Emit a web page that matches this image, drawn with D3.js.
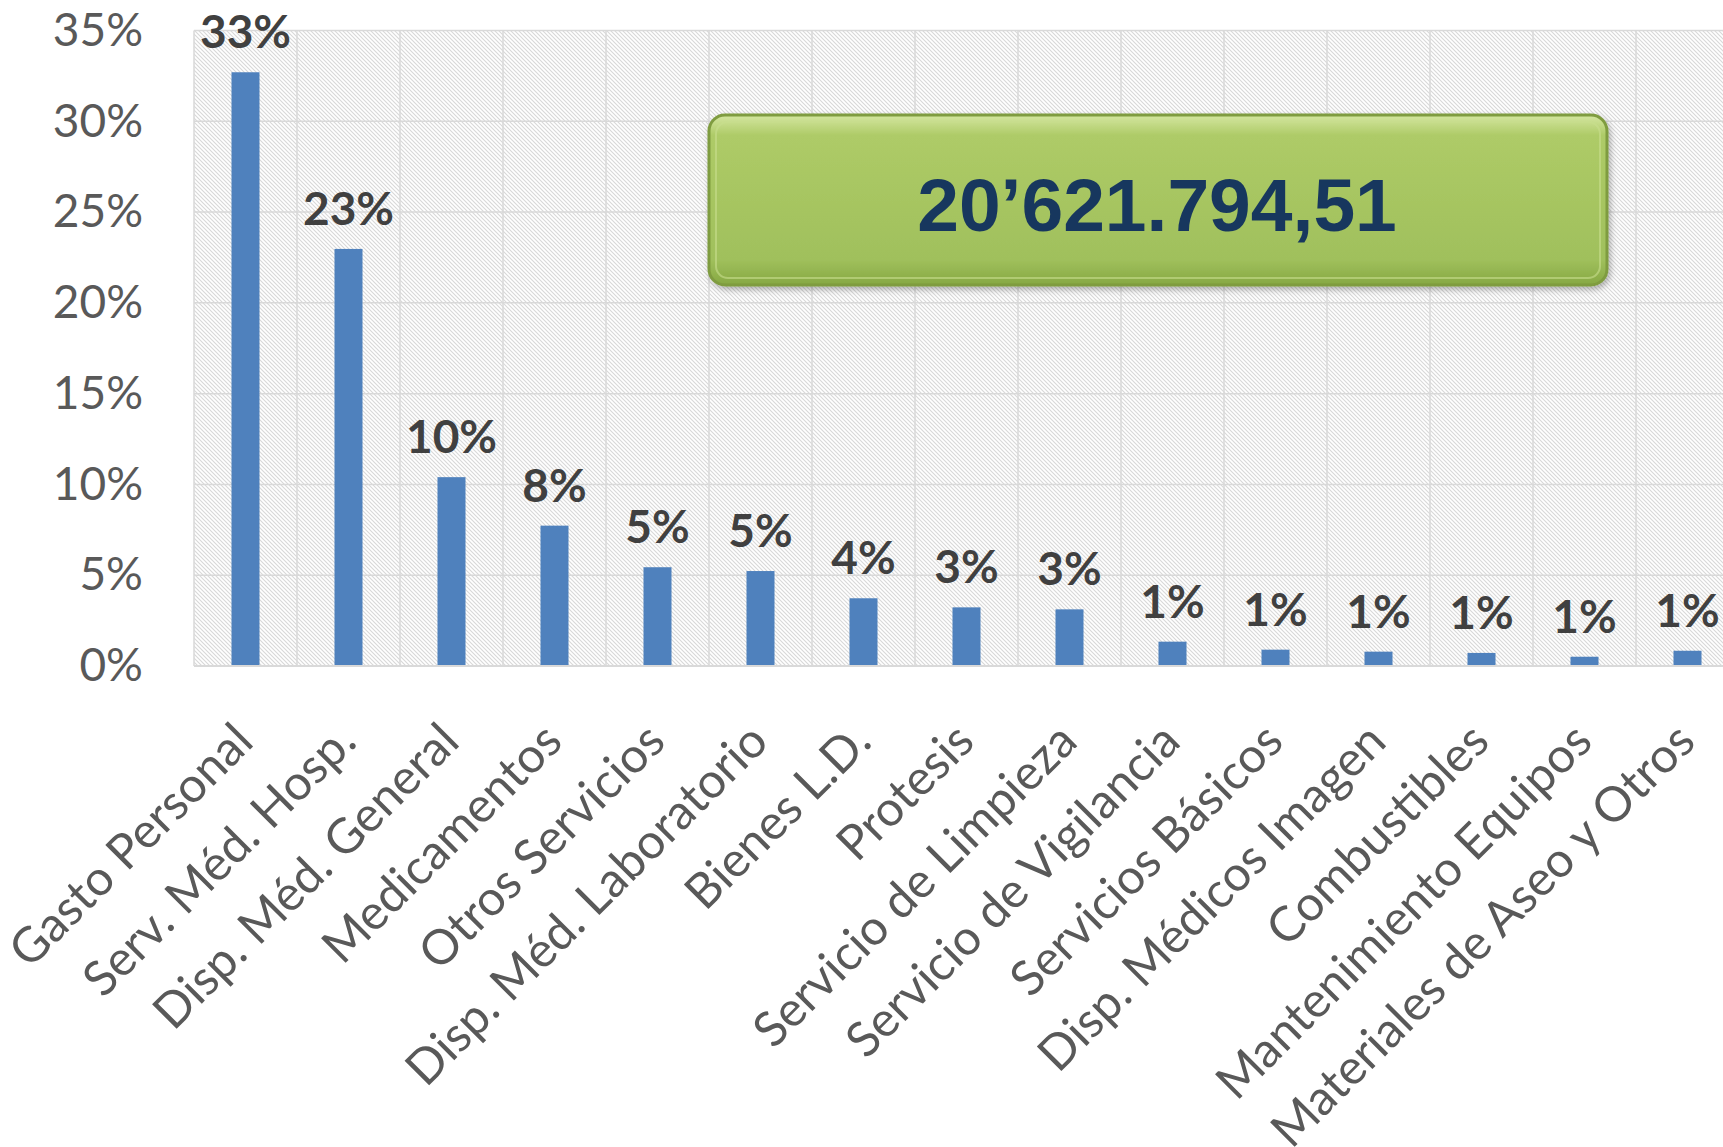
<!DOCTYPE html>
<html>
<head>
<meta charset="utf-8">
<script src="https://cdn.jsdelivr.net/npm/d3@7"></script>
<style>
  body { margin: 0; background: #fff; }
  svg { display: block; }
</style>
</head>
<body>
<svg id="chart"></svg>
<script>
var categories = ["Gasto Personal", "Serv. Méd. Hosp.", "Disp. Méd. General", "Medicamentos",
                  "Otros Servicios", "Disp. Méd. Laboratorio", "Bienes L.D.", "Protesis",
                  "Servicio de Limpieza", "Servicio de Vigilancia", "Servicios Básicos",
                  "Disp. Médicos Imagen", "Combustibles", "Mantenimiento Equipos",
                  "Materiales de Aseo y Otros"];
var shares = [0.327, 0.2297, 0.104, 0.0773, 0.0544, 0.0523, 0.0373, 0.0323, 0.0312,
              0.0134, 0.0090, 0.0079, 0.0072, 0.0051, 0.0084];
var yTicks = [0, 0.05, 0.10, 0.15, 0.20, 0.25, 0.30, 0.35];
var totalLabel = "20\u2019621.794,51";

var W = 1723, H = 1147;
var margin = { top: 30.5, left: 194, bottom: 481 },
    bandW = 103,
    plotW = bandW * categories.length,
    plotBottom = H - margin.bottom;

var svg = d3.select("#chart").attr("width", W).attr("height", H);

var defs = svg.append("defs");
var pat = defs.append("pattern")
  .attr("id", "hatch")
  .attr("patternUnits", "userSpaceOnUse")
  .attr("width", 4).attr("height", 4);
pat.append("rect").attr("width", 4).attr("height", 4).attr("fill", "#fff");
pat.append("path").attr("d", "M-1,-1 L5,5 M3,-1 L5,1 M-1,3 L1,5")
  .attr("stroke", "#d8d8d8").attr("stroke-width", 1.1);

var grad = defs.append("linearGradient").attr("id", "boxFill")
  .attr("x1", 0).attr("y1", 0).attr("x2", 0).attr("y2", 1);
grad.append("stop").attr("offset", "0").attr("stop-color", "#d4e6a0");
grad.append("stop").attr("offset", "0.12").attr("stop-color", "#aecb67");
grad.append("stop").attr("offset", "0.85").attr("stop-color", "#a0c05c");
grad.append("stop").attr("offset", "1").attr("stop-color", "#86a843");

var shadow = defs.append("filter").attr("id", "shadow")
  .attr("x", "-5%").attr("y", "-10%").attr("width", "110%").attr("height", "130%");
shadow.append("feDropShadow").attr("dx", 2).attr("dy", 3).attr("stdDeviation", 3)
  .attr("flood-color", "#000").attr("flood-opacity", 0.3);

var x = d3.scaleBand()
  .domain(categories)
  .range([margin.left, margin.left + plotW])
  .padding(0);

var y = d3.scaleLinear()
  .domain([0, 0.35])
  .range([plotBottom, margin.top]);

// plot background
svg.append("rect")
  .attr("x", margin.left).attr("y", margin.top)
  .attr("width", plotW).attr("height", plotBottom - margin.top)
  .attr("fill", "url(#hatch)");

// horizontal gridlines
svg.append("g").selectAll("line")
  .data(yTicks)
  .enter().append("line")
  .attr("x1", margin.left).attr("x2", margin.left + plotW)
  .attr("y1", d => y(d)).attr("y2", d => y(d))
  .attr("stroke", "#d9d9d9").attr("stroke-width", 1.5);

// vertical gridlines at category edges
svg.append("g").selectAll("line")
  .data(categories.concat(["__end"]))
  .enter().append("line")
  .attr("x1", (d, i) => margin.left + i * x.bandwidth())
  .attr("x2", (d, i) => margin.left + i * x.bandwidth())
  .attr("y1", margin.top).attr("y2", plotBottom)
  .attr("stroke", "#d9d9d9").attr("stroke-width", 1.5);

// y axis labels
var yAxis = d3.axisLeft(y).tickValues(yTicks).tickFormat(d3.format(".0%")).tickSize(0).tickPadding(0);
var gy = svg.append("g")
  .attr("transform", "translate(" + (margin.left - 51) + ",0)")
  .call(yAxis);
gy.select(".domain").remove();
gy.selectAll("text")
  .attr("font-family", "Lato, 'Open Sans', sans-serif")
  .attr("font-size", 46)
  .attr("fill", "#595959");

// bars
var barW = x.bandwidth() * 0.272;
svg.append("g").selectAll("rect")
  .data(shares)
  .enter().append("rect")
  .attr("x", (d, i) => x(categories[i]) + (x.bandwidth() - barW) / 2)
  .attr("y", d => y(d))
  .attr("width", barW)
  .attr("height", d => y(0) - y(d))
  .attr("fill", "#4f81bd");

// data labels
svg.append("g").selectAll("text")
  .data(shares)
  .enter().append("text")
  .attr("x", (d, i) => x(categories[i]) + x.bandwidth() / 2)
  .attr("y", d => y(d) - 24)
  .attr("text-anchor", "middle")
  .attr("font-family", "Lato, 'Open Sans', sans-serif")
  .attr("font-weight", "bold")
  .attr("font-size", 46)
  .attr("fill", "#404040")
  .text(d => d3.format(".0%")(d));

// x axis line
svg.append("line")
  .attr("x1", margin.left).attr("x2", margin.left + plotW)
  .attr("y1", plotBottom).attr("y2", plotBottom)
  .attr("stroke", "#d9d9d9").attr("stroke-width", 2);

// category labels, rotated
var xAxis = d3.axisBottom(x).tickSize(0).tickPadding(0);
var gx = svg.append("g")
  .attr("transform", "translate(0," + plotBottom + ")")
  .call(xAxis);
gx.select(".domain").remove();
gx.selectAll("text")
  .attr("font-family", "Lato, 'Open Sans', sans-serif")
  .attr("font-size", 48.5)
  .attr("fill", "#595959")
  .attr("text-anchor", "end")
  .attr("dy", 0)
  .attr("y", 0)
  .attr("transform", "translate(10,78) rotate(-45)");

// total box
var box = svg.append("g");
box.append("rect")
  .attr("x", 709).attr("y", 115)
  .attr("width", 898).attr("height", 170)
  .attr("rx", 16).attr("ry", 16)
  .attr("fill", "url(#boxFill)")
  .attr("stroke", "#7f9c3f").attr("stroke-width", 3)
  .attr("filter", "url(#shadow)");
box.append("rect")
  .attr("x", 716).attr("y", 122)
  .attr("width", 884).attr("height", 156)
  .attr("rx", 12).attr("ry", 12)
  .attr("fill", "none")
  .attr("stroke", "#c8de8e").attr("stroke-opacity", 0.6).attr("stroke-width", 2);
box.append("text")
  .attr("x", 1157).attr("y", 231)
  .attr("text-anchor", "middle")
  .attr("font-family", "'Liberation Sans', Arial, sans-serif")
  .attr("font-weight", "bold")
  .attr("font-size", 75)
  .attr("fill", "#17375e")
  .text(totalLabel);
</script>
</body>
</html>
